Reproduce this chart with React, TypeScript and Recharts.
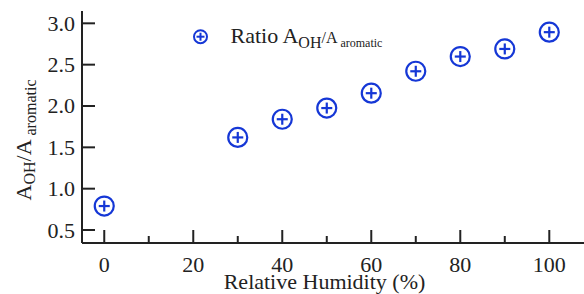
import React from "react";
import { ScatterChart, Scatter, XAxis, YAxis, Customized } from "recharts";

const humidity = [0, 30, 40, 50, 60, 70, 80, 90, 100];
const ratio = [0.79, 1.62, 1.84, 1.975, 2.155, 2.42, 2.598, 2.69, 2.893];
const xTicks = [0, 10, 20, 30, 40, 50, 60, 70, 80, 90, 100];
const xLabeled = [0, 20, 40, 60, 80, 100];
const yTicks = [0.5, 1.0, 1.5, 2.0, 2.5, 3.0];

const data = humidity.map((h, i) => ({ h, r: ratio[i] }));

const BLUE = "#1537d6";
const INK = "#222";
const FONT = "'Times New Roman', 'Liberation Serif', 'DejaVu Serif', serif";

const Marker = (props: any) => {
  const { cx, cy } = props;
  if (cx == null || cy == null) return null;
  return (
    <g>
      <circle cx={cx} cy={cy} r={9.5} fill="none" stroke={BLUE} strokeWidth={2.2} />
      <line x1={cx - 5.5} x2={cx + 5.5} y1={cy} y2={cy} stroke={BLUE} strokeWidth={2.2} />
      <line x1={cx} x2={cx} y1={cy - 5.5} y2={cy + 5.5} stroke={BLUE} strokeWidth={2.2} />
    </g>
  );
};

const XTick = (props: any) => {
  const { x, y, payload } = props;
  const major = xLabeled.includes(payload.value);
  return (
    <g>
      <line x1={x} x2={x} y1={y} y2={y - (major ? 13 : 7)} stroke={INK} strokeWidth={2} />
      {major && (
        <text x={x} y={y + 29} textAnchor="middle" fontSize={22} fill={INK} style={{ fontFamily: FONT }}>
          {payload.value}
        </text>
      )}
    </g>
  );
};

const YTick = (props: any) => {
  const { x, y, payload } = props;
  return (
    <g>
      <line x1={x} x2={x + 13} y1={y} y2={y} stroke={INK} strokeWidth={2} />
      <text x={x - 7} y={y + 7.5} textAnchor="end" fontSize={22} fill={INK} style={{ fontFamily: FONT }}>
        {payload.value.toFixed(1)}
      </text>
    </g>
  );
};

const YLabel = () => (
  <text
    transform="translate(31,140) rotate(-90)"
    textAnchor="middle"
    fill={INK}
    fontSize={22}
    style={{ fontFamily: FONT }}
  >
    <tspan>A</tspan>
    <tspan fontSize={16} dy={4}>OH</tspan>
    <tspan dy={-4}>/A</tspan>
    <tspan fontSize={16} dy={5}> aromatic</tspan>
  </text>
);

const XLabel = () => (
  <text x={324.5} y={289} textAnchor="middle" fill={INK} fontSize={22} style={{ fontFamily: FONT }}>
    Relative Humidity (%)
  </text>
);

const LegendBox = () => (
  <g>
    <circle cx={200.5} cy={36.7} r={6.5} fill="none" stroke={BLUE} strokeWidth={2} />
    <line x1={196.5} x2={204.5} y1={36.7} y2={36.7} stroke={BLUE} strokeWidth={2} />
    <line x1={200.5} x2={200.5} y1={32.7} y2={40.7} stroke={BLUE} strokeWidth={2} />
    <text x={230.5} y={43} fill={INK} fontSize={22} style={{ fontFamily: FONT }}>
      <tspan>Ratio A</tspan>
      <tspan fontSize={16} dy={5}>OH</tspan>
      <tspan fontSize={16} dy={-5}>/A</tspan>
      <tspan fontSize={12} dy={4}> aromatic</tspan>
    </text>
  </g>
);

export default function App() {
  return (
    <div style={{ position: "absolute", left: 0, top: 0, width: 584, height: 294, background: "#fff" }}>
      <ScatterChart width={584} height={294} margin={{ top: 11, right: 0, bottom: 0, left: 0 }}>
        <XAxis
          dataKey="h"
          type="number"
          domain={[-5, 107.8]}
          ticks={xTicks}
          tick={<XTick />}
          tickLine={false}
          tickSize={0}
          tickMargin={0}
          height={51}
          axisLine={{ stroke: INK, strokeWidth: 2 }}
          allowDataOverflow
        />
        <XAxis
          xAxisId="top"
          orientation="top"
          type="number"
          domain={[-5, 107.8]}
          tick={false}
          tickLine={false}
          height={0}
          axisLine={{ stroke: INK, strokeWidth: 2 }}
        />
        <YAxis
          dataKey="r"
          type="number"
          domain={[0.343, 3.149]}
          ticks={yTicks}
          tick={<YTick />}
          tickLine={false}
          tickSize={0}
          tickMargin={0}
          width={82}
          axisLine={{ stroke: INK, strokeWidth: 2 }}
          allowDataOverflow
        />
        <Scatter data={data} shape={<Marker />} isAnimationActive={false} />
        <Customized component={<YLabel />} />
        <Customized component={<XLabel />} />
        <Customized component={<LegendBox />} />
      </ScatterChart>
    </div>
  );
}
